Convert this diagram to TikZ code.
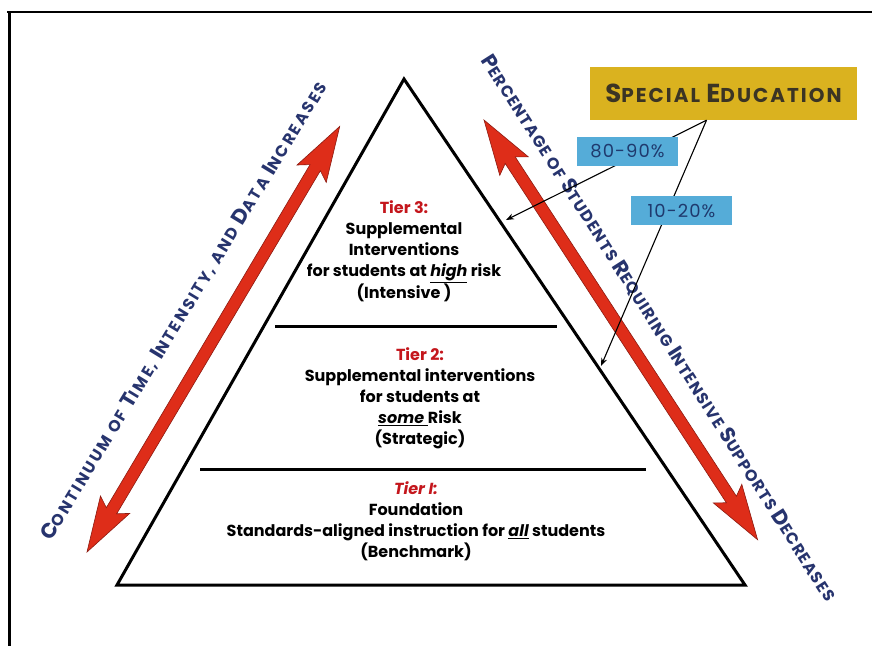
\documentclass[tikz,border=0pt]{standalone}
\usepackage{fontspec}
\setmainfont{Poppins}
\usetikzlibrary{arrows.meta}
\definecolor{navy}{HTML}{27346E}
\definecolor{tierred}{HTML}{C4161C}
\definecolor{arrred}{HTML}{DE2D19}
\definecolor{arrdark}{HTML}{8C1A10}
\definecolor{gold}{HTML}{DAB21F}
\definecolor{skyb}{HTML}{55ACD8}
\definecolor{sedark}{HTML}{3B3424}
\definecolor{pctblue}{HTML}{1F3A6E}
\newcommand\Ini[2]{{\fontsize{#1}{#1}\selectfont #2}}
\begin{document}
\begin{tikzpicture}[x=1pt,y=-1pt,
  tiertext/.style={align=center,font=\fontsize{16}{21}\selectfont\bfseries,text=black,inner sep=0pt},
  sidelabel/.style={text=navy,inner sep=0pt},
  redarrow/.style={fill=arrred,draw=arrdark,line width=0.6pt,line join=miter},
  pctbox/.style={fill=skyb,text=pctblue,font=\fontsize{18}{18}\selectfont\addfontfeatures{LetterSpace=6},minimum width=101pt,minimum height=29pt,inner sep=0pt},
  pointer/.style={draw=black,line width=1.1pt,-{Stealth[length=8pt,width=6pt]}},
  pyr/.style={draw=black,line width=3pt,line join=miter}
]
\useasboundingbox (0,0) rectangle (872,646);
\fill[white] (0,0) rectangle (872,646);
% frame
\draw[line width=2.5pt] (7,12) -- (872,12);
\draw[line width=3pt] (9,12) -- (9,646);

% pyramid
\coordinate (apex) at (404,79);
\coordinate (bl) at (117,585);
\coordinate (br) at (745,585);
\draw[pyr] (apex) -- (br) -- (bl) -- cycle;
\coordinate (d1l) at (275,326);
\coordinate (d1r) at (557,326);
\coordinate (d2l) at (200,469);
\coordinate (d2r) at (646,469);
\draw[line width=3pt] (d1l) -- (d1r);
\draw[line width=3pt] (d2l) -- (d2r);

% tier texts
\node[tiertext] (t3) at (404,251) {{\color{tierred}Tier 3:}\\Supplemental\\Interventions\\for students at \underline{\itshape high} risk\\(Intensive )};
\node[tiertext] (t2) at (420,398) {{\color{tierred}Tier 2:}\\Supplemental interventions\\for students at\\\underline{\itshape some }Risk\\(Strategic)};
\node[tiertext] (t1) at (416,521) {{\color{tierred}\itshape Tier I:}\\Foundation\\Standards-aligned instruction for \underline{\itshape all} students\\(Benchmark)};

% left red double arrow
\begin{scope}[shift={(87,552)},rotate=59.3]
\draw[redarrow] (0pt,0pt) -- (55pt,17pt) -- (48pt,6pt) -- (447pt,6pt) -- (440pt,17pt) -- (495pt,0pt)
  -- (440pt,-17pt) -- (447pt,-6pt) -- (48pt,-6pt) -- (55pt,-17pt) -- cycle;
\end{scope}
% right red double arrow
\begin{scope}[shift={(484,120)},rotate=-56.9]
\draw[redarrow] (0pt,0pt) -- (55pt,17pt) -- (48pt,6pt) -- (453pt,6pt) -- (446pt,17pt) -- (501pt,0pt)
  -- (446pt,-17pt) -- (453pt,-6pt) -- (48pt,-6pt) -- (55pt,-17pt) -- cycle;
\end{scope}

% side labels
\node[sidelabel,rotate=58.7,font=\fontsize{16}{16}\selectfont\bfseries\addfontfeatures{LetterSpace=14}] (leftlab) at (184,311)
  {\Ini{21}{C}ONTINUUM OF \Ini{21}{T}IME, \Ini{21}{I}NTENSITY, AND \Ini{21}{D}ATA \Ini{21}{I}NCREASES};
\node[sidelabel,rotate=-57.5,font=\fontsize{16}{16}\selectfont\bfseries\addfontfeatures{LetterSpace=7}] (rightlab) at (659,328)
  {\Ini{21}{P}ERCENTAGE OF \Ini{21}{S}TUDENTS \Ini{21}{R}EQUIRING \Ini{21}{I}NTENSIVE \Ini{21}{S}UPPORTS \Ini{21}{D}ECREASES};

% special education
\node[fill=gold,minimum width=267pt,minimum height=53pt,inner sep=0pt,text=sedark,font=\fontsize{20}{20}\selectfont\bfseries\addfontfeatures{LetterSpace=10}] (se) at (723.5,93.5)
  {\Ini{26}{S}PECIAL \Ini{26}{E}DUCATION};
\coordinate (sep) at ([xshift=-17pt]se.south);
\coordinate (tip3) at (506,220);
\coordinate (tip2) at (601,366);
\draw[pointer] (sep) -- (tip3);
\draw[pointer] (sep) -- (tip2);
\node[pctbox] (p1) at (627.5,151) {80-90\%};
\node[pctbox] (p2) at (681.5,210.5) {10-20\%};
\end{tikzpicture}
\end{document}
